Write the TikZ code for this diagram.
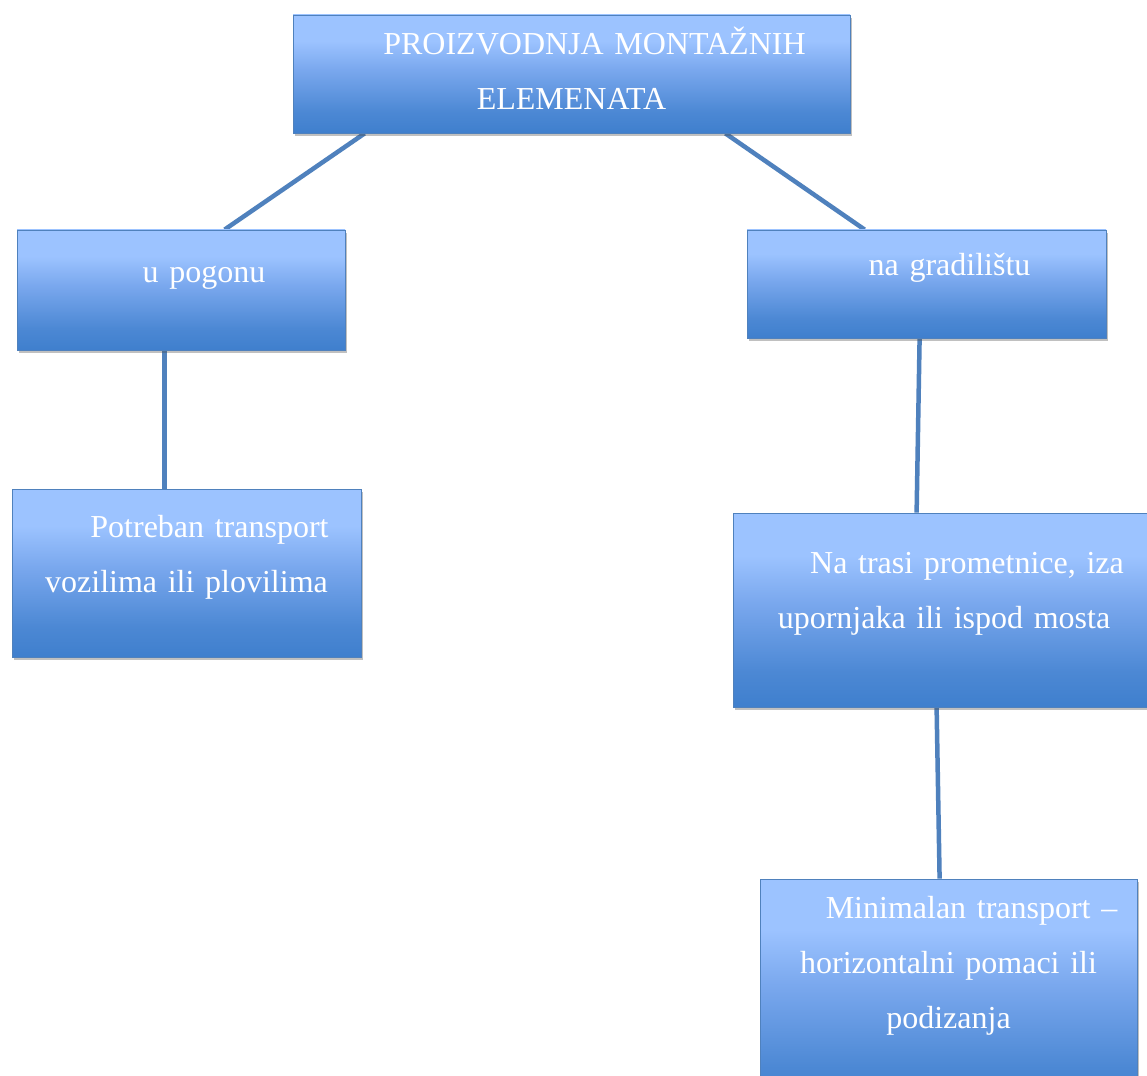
\documentclass[tikz,border=0pt]{standalone}
\usepackage{fontspec}
\setmainfont{Liberation Serif}
\usetikzlibrary{positioning,shadows,backgrounds}
\definecolor{boxtop}{HTML}{9CC3FF}
\definecolor{boxmid}{HTML}{7AA8EE}
\definecolor{boxlow}{HTML}{4C88D4}
\definecolor{boxbot}{HTML}{3F7FCD}
\definecolor{boxline}{HTML}{4F81BD}
\pgfdeclareverticalshading{boxshade}{100bp}{color(0bp)=(boxbot); color(25bp)=(boxbot); color(34bp)=(boxlow); color(52bp)=(boxmid); color(64bp)=(boxtop); color(100bp)=(boxtop)}

\begin{document}
\begin{tikzpicture}[x=1pt, y=-1pt,
    box/.style={draw=boxline, line width=0.8pt, shading=boxshade, inner sep=0pt,
        drop shadow={shadow xshift=2pt, shadow yshift=-3pt, opacity=0.35, fill=black!70}},
    lbl/.style={text=white, text width=540pt, align=center, inner sep=0pt,
        font=\fontsize{32}{55}\selectfont},
    link/.style={draw=boxline, line width=4.5pt}]
\useasboundingbox (0,0) rectangle (1147,1075);

% boxes
\node[box, minimum width=557pt, minimum height=118pt] (top) at (571.5,74) {};
\node[box, minimum width=328pt, minimum height=120pt] (pog) at (181,290) {};
\node[box, minimum width=359pt, minimum height=108pt] (grad) at (926.5,284) {};
\node[box, minimum width=349pt, minimum height=168pt] (potr) at (186.5,573) {};
\node[box, minimum width=422pt, minimum height=194pt] (tras) at (944,610) {};
\node[box, minimum width=377pt, minimum height=230pt] (mini) at (948.5,994) {};

% texts
\node[lbl, anchor=base] (topT) at (571.5,55) {\hspace*{46pt}PROIZVODNJA MONTAŽNIH\\ELEMENATA};
\node[lbl, anchor=base] (pogT) at (181,282) {\hspace*{46pt}u pogonu};
\node[lbl, anchor=base] (gradT) at (926.5,275) {\hspace*{46pt}na gradilištu};
\node[lbl, anchor=base] (potrT) at (186.5,537) {\hspace*{46pt}Potreban transport\\vozilima ili plovilima};
\node[lbl, anchor=base] (trasT) at (944,573) {\hspace*{46pt}Na trasi prometnice, iza\\upornjaka ili ispod mosta};
\node[lbl, anchor=base] (miniT) at (948.5,918) {\hspace*{46pt}Minimalan transport --\\horizontalni pomaci ili\\podizanja};

% connectors
\begin{scope}[on background layer]
\fill[white] (0,0) rectangle (1147,1075);
\draw[link] ([xshift=72pt]top.south west) -- ([xshift=208pt]pog.north west);
\draw[link] ([xshift=-125pt]top.south east) -- ([xshift=118pt]grad.north west);
\draw[link] ([xshift=148pt]pog.south west) -- ([xshift=153pt]potr.north west);
\draw[link] ([xshift=173pt]grad.south west) -- ([xshift=184pt]tras.north west);
\draw[link] ([xshift=204pt]tras.south west) -- ([xshift=180pt]mini.north west);
\end{scope}
\end{tikzpicture}
\end{document}
